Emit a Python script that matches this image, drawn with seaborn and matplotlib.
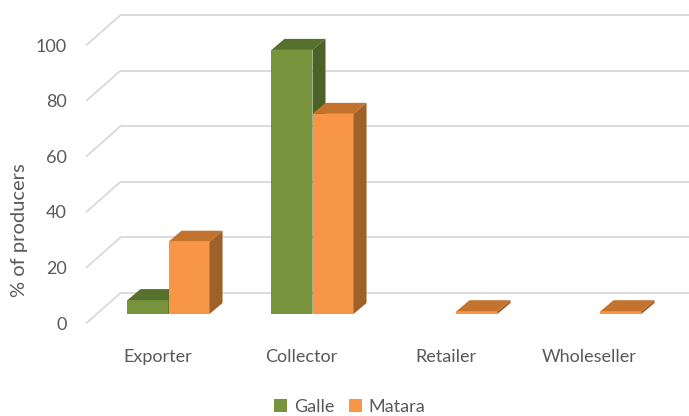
import numpy as np
import pandas as pd
import matplotlib
matplotlib.use('Agg')
import matplotlib.pyplot as plt
import seaborn as sns
from matplotlib.patches import Polygon
from matplotlib.transforms import ScaledTranslation

# data (% of producers selling to each channel)
channels = ['Exporter', 'Collector', 'Retailer', 'Wholeseller']
districts = ['Galle', 'Matara']
galle = [5, 95, 0, 0]
matara = [26, 72, 1, 1]
yticks = [0, 20, 40, 60, 80, 100]

front_colors = {'Galle': '#77933C', 'Matara': '#F79646'}
top_colors = {'Galle': '#56702D', 'Matara': '#C4732F'}
side_colors = {'Galle': '#4B6226', 'Matara': '#A0602A'}
text_color = '#595959'
grid_color = '#D9D9D9'

df = pd.DataFrame({
    'channel': channels * 2,
    'district': ['Galle'] * len(channels) + ['Matara'] * len(channels),
    'pct': galle + matara,
})

sns.set_theme(style='white')
plt.rcParams['font.family'] = ['Lato', 'DejaVu Sans']

W, H = 689, 416
fig = plt.figure(figsize=(W / 100, H / 100), dpi=100)

# pixel geometry of the bar plane
px_per_x = 144.0
px_per_y = 2.78
x_center0 = 168.5
base_px = 314.0
xlim = (-0.6, 3.6)
ylim = (-5, 110)
left_px = x_center0 + xlim[0] * px_per_x
right_px = x_center0 + xlim[1] * px_per_x
bottom_px = base_px - ylim[0] * px_per_y
top_px = base_px - ylim[1] * px_per_y
ax = fig.add_axes([left_px / W, 1 - bottom_px / H,
                   (right_px - left_px) / W, (bottom_px - top_px) / H])

sns.barplot(data=df, x='channel', y='pct', hue='district', order=channels,
            hue_order=districts, palette=front_colors, width=0.57,
            linewidth=0, saturation=1, ax=ax)
ax.set_xlim(*xlim)
ax.set_ylim(*ylim)

# depth of the bars and walls (pixels -> data units)
bar_dx, bar_dy = 13 / px_per_x, 11 / px_per_y
back_dx, back_dy = 24 / px_per_x, 21 / px_per_y
front_dx, front_dy = -10 / px_per_x, -9 / px_per_y

# back wall gridlines + diagonals to the front
wall_left, wall_right = -0.5, 3.6
for v in yticks:
    ax.plot([wall_left + back_dx, wall_right + back_dx], [v + back_dy, v + back_dy],
            color=grid_color, lw=1.3, zorder=0.5, clip_on=False)
    ax.plot([wall_left + front_dx, wall_left + back_dx], [v + front_dy, v + back_dy],
            color=grid_color, lw=1.3, zorder=0.5, clip_on=False)

# 3d top and side faces built from the seaborn bars
for i, (district, container) in enumerate(zip(districts, ax.containers)):
    for rect in container:
        x, w, h = rect.get_x(), rect.get_width(), rect.get_height()
        rect.set_zorder(2 + i)
        if h <= 0:
            rect.set_visible(False)
            continue
        top = [(x, h), (x + w, h), (x + w + bar_dx, h + bar_dy), (x + bar_dx, h + bar_dy)]
        side = [(x + w, 0), (x + w + bar_dx, bar_dy), (x + w + bar_dx, h + bar_dy), (x + w, h)]
        ax.add_patch(Polygon(top, closed=True, facecolor=top_colors[district],
                             edgecolor='none', zorder=2.1 + i))
        ax.add_patch(Polygon(side, closed=True, facecolor=side_colors[district],
                             edgecolor='none', zorder=2.1 + i))

# axes text
ax.set_yticks(yticks)
ax.set_yticklabels([str(v) for v in yticks])
ax.tick_params(axis='both', length=0, labelsize=13, labelcolor=text_color)
ax.tick_params(axis='y', pad=11)
ax.tick_params(axis='x', pad=15)
for tick in ax.yaxis.get_major_ticks():
    tick.label1.set_transform(tick.label1.get_transform() +
                              ScaledTranslation(0, -0.09, fig.dpi_scale_trans))
for tick in ax.xaxis.get_major_ticks():
    tick.label1.set_transform(tick.label1.get_transform() +
                              ScaledTranslation(-0.11, 0, fig.dpi_scale_trans))

ax.set_xlabel('')
ax.set_ylabel('% of producers', fontsize=14.5, color=text_color)
ax.yaxis.set_label_coords(28 / W, 1 - 230 / H, transform=fig.transFigure)
for s in ax.spines.values():
    s.set_visible(False)
ax.set_facecolor('none')

sns.move_legend(ax, loc='center', bbox_to_anchor=(350 / W, 1 - 407 / H),
                bbox_transform=fig.transFigure, ncol=2, title=None, frameon=False,
                fontsize=13, handlelength=0.72, handleheight=0.72,
                handletextpad=0.35, columnspacing=0.85, borderaxespad=0)
for t in ax.get_legend().get_texts():
    t.set_color(text_color)

fig.savefig('out.png', dpi=100)
